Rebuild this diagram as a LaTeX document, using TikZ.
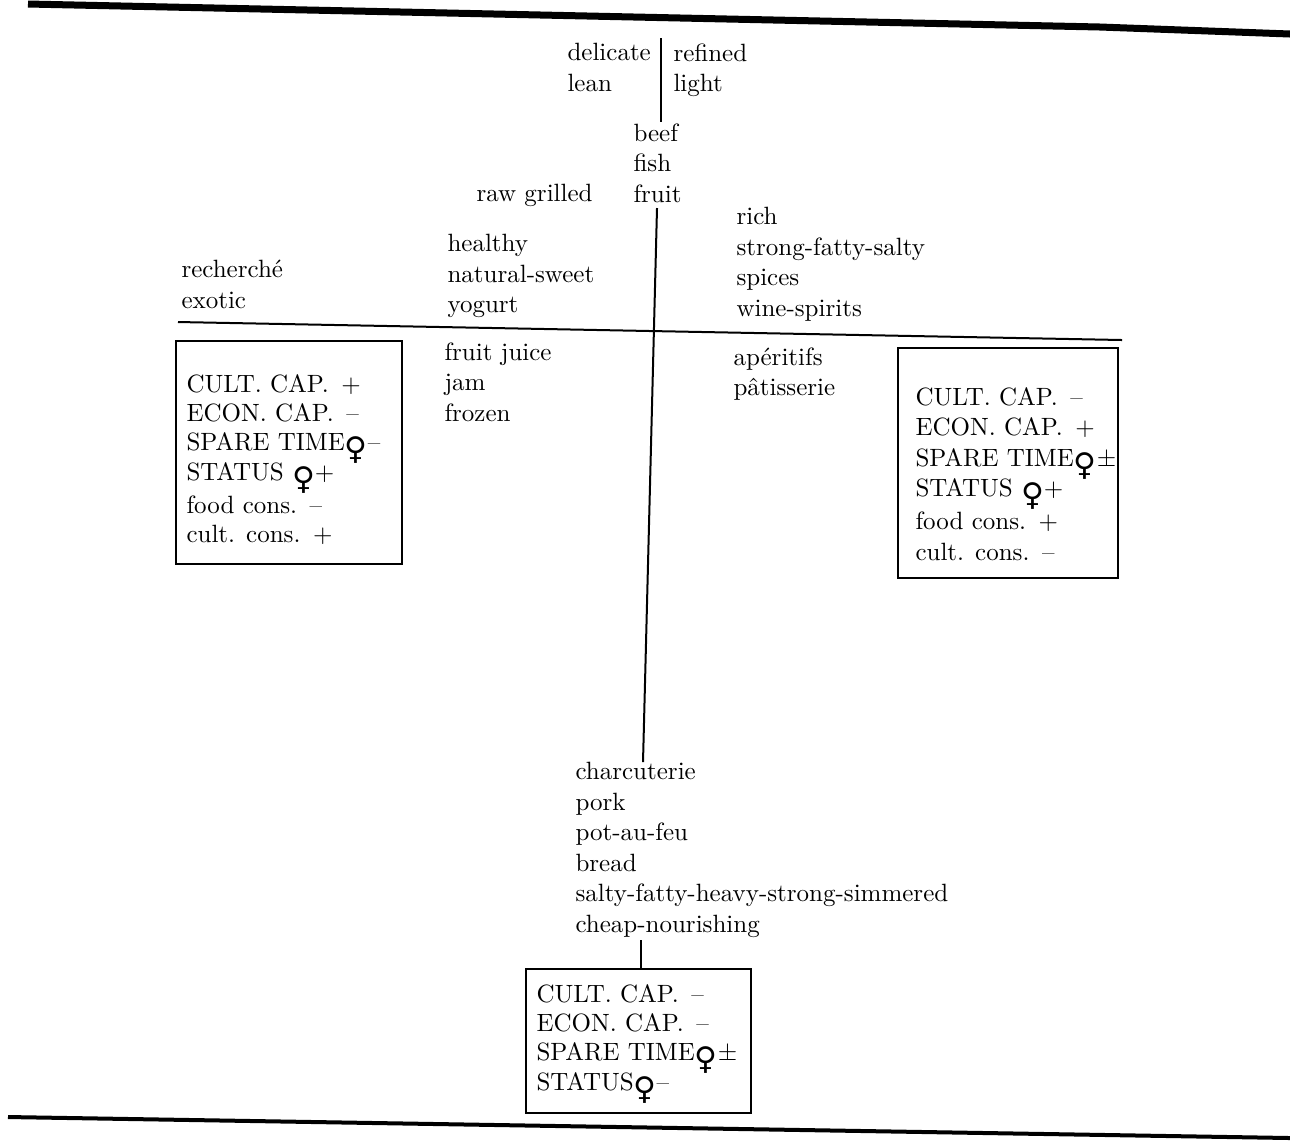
\documentclass[tikz,border=0pt]{standalone}
\usepackage{fontspec}
\newfontfamily\symfont{DejaVu Sans}
\newcommand{\fem}{\raisebox{-3.6pt}[6pt][0pt]{\symfont\fontsize{12.5}{12.5}\selectfont ♀}}

\begin{document}
\begin{tikzpicture}[x=0.4pt,y=-0.4pt,
  words/.style={anchor=north west,inner sep=0pt,align=left,font=\fontsize{10}{12.2}\selectfont},
  capwords/.style={words,font=\fontsize{10}{11.7}\selectfont},
  capbox/.style={draw,line width=0.8pt,inner sep=0pt,anchor=north west},
  axis/.style={line width=0.8pt}]
  \useasboundingbox (0,0) rectangle (1290,1142);

  \draw [line width=2.8pt] (28,4) -- (1100,27) -- (1290,34);
  \draw [line width=1.6pt] (8,1117) -- (1290,1138);

  \node [words] (delicate) at (567,43) {delicate\\lean};
  \node [words] (refined) at (673,43) {refined\\light};
  \node [words] (beef) at (633,123) {beef\\fish\\fruit};
  \node [words] (raw) at (476,184) {raw grilled};
  \node [words] (healthy) at (447,234) {healthy\\natural-sweet\\yogurt};
  \node [words] (exotic) at (181,260) {recherché\\exotic};
  \node [words] (rich) at (736,207) {rich\\strong-fatty-salty\\spices\\wine-spirits};
  \node [words] (juice) at (444,342) {fruit juice\\jam\\frozen};
  \node [words] (aperitifs) at (733,347) {apéritifs\\pâtisserie};
  \node [words] (charcuterie) at (575,762) {charcuterie\\pork\\pot-au-feu\\bread\\salty-fatty-heavy-strong-simmered\\cheap-nourishing};

  \node [capbox,minimum width=90.4pt,minimum height=89.2pt] (leftbox) at (175,340) {};
  \node [capbox,minimum width=88pt,minimum height=92pt] (rightbox) at (897,347) {};
  \node [capbox,minimum width=90pt,minimum height=57.6pt] (botbox) at (525,968) {};

  \node [capwords] (lefttext) at (186,374) {CULT. CAP.\enspace+\\ECON. CAP.\enspace--\\SPARE TIME\fem--\\STATUS \fem+\\[1.6pt]food cons.\enspace--\\cult. cons.\enspace+};
  \node [words] (righttext) at (915,387) {CULT. CAP.\enspace--\\ECON. CAP.\enspace+\\SPARE TIME\fem±\\STATUS \fem+\\[1pt]food cons.\enspace+\\cult. cons.\enspace--};
  \node [capwords] (bottext) at (536,984) {CULT. CAP.\enspace--\\ECON. CAP.\enspace--\\SPARE TIME\fem±\\STATUS\fem--};

  \coordinate (axtop) at (661,38);
  \coordinate (axbeef) at (661,122);
  \coordinate (axfruit) at (657,208);
  \coordinate (axbottom) at (643,762);
  \coordinate (axleft) at (178,322);
  \coordinate (axright) at (1122,340);
  \coordinate (cheap) at (641,940);

  \draw [axis] (axtop) -- (axbeef);
  \draw [axis] (axfruit) -- (axbottom);
  \draw [axis] (axleft) -- (axright);
  \draw [axis] (cheap) -- (botbox.north -| cheap);
\end{tikzpicture}
\end{document}
